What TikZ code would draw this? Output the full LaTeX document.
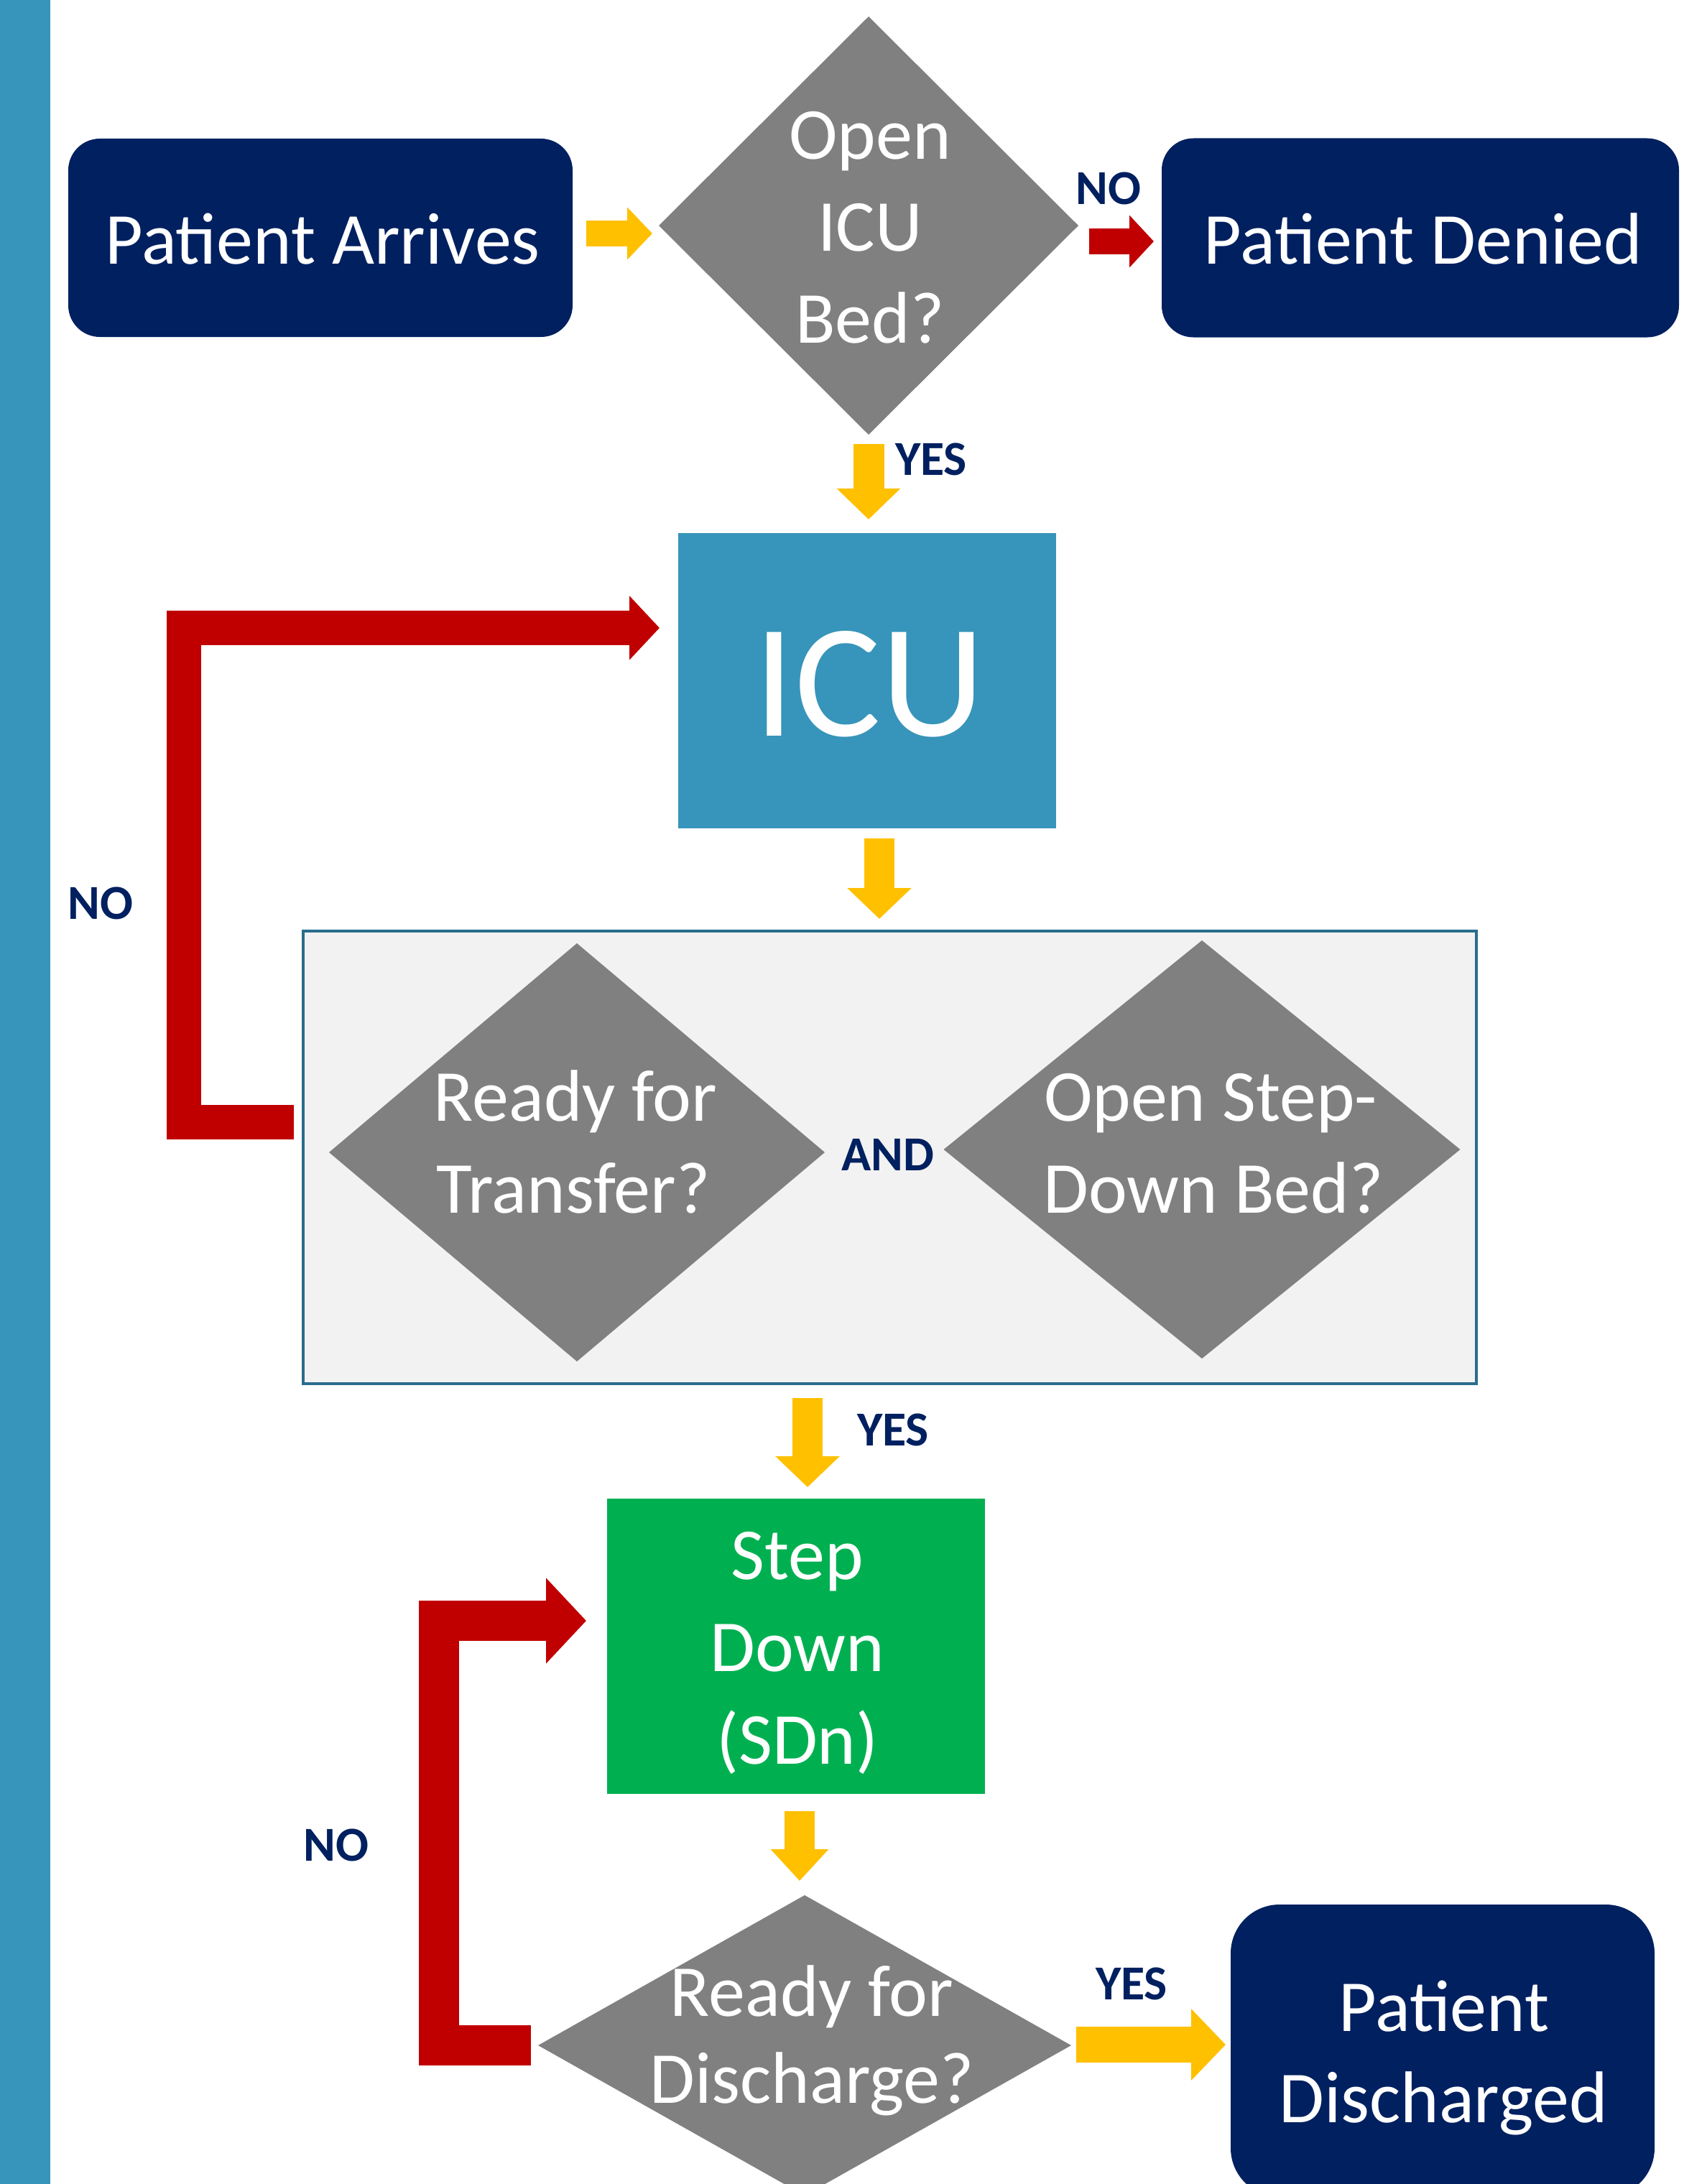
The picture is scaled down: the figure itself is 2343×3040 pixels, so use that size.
\documentclass[tikz,border=0pt]{standalone}
\usepackage{fontspec}
\setmainfont{Carlito}
\usetikzlibrary{arrows.meta,shapes.geometric}
\definecolor{navy}{HTML}{002060}
\definecolor{yel}{HTML}{FFC000}
\definecolor{rd}{HTML}{C00000}
\definecolor{grn}{HTML}{00B050}
\definecolor{dgray}{HTML}{808080}
\definecolor{barblue}{HTML}{3794BA}
\definecolor{lgray}{HTML}{F2F2F2}
\definecolor{border}{HTML}{2A6C8C}
\tikzset{
  box/.style={inner sep=0pt, outer sep=0pt, draw=none},
  navybox/.style={box, fill=navy},
  dia/.style={diamond, fill=dgray, inner sep=0pt, outer sep=0pt},
  wt/.style={text=white, font=\fontsize{102pt}{122pt}\selectfont, anchor=base, inner sep=0pt},
  lbl/.style={text=navy, font=\fontsize{68pt}{80pt}\selectfont\bfseries, anchor=base, inner sep=0pt},
  barrow/.style n args={3}{line width=#1, -{Triangle[length=#2, width=#3]}, line join=miter, line cap=butt}
}
\begin{document}
\begin{tikzpicture}[x=1pt,y=-1pt]
\useasboundingbox (0,0) rectangle (2343,3040);
\fill[white] (0,0) rectangle (2343,3040);
\fill[barblue] (0,0) rectangle (70,3040);

% top row
\node[navybox, rounded corners=44pt, minimum width=702pt, minimum height=276pt] (arr) at (446,331) {};
\node[wt] (arrt) at (449,367) {Patient Arrives};
\node[navybox, rounded corners=44pt, minimum width=720pt, minimum height=277pt] (den) at (1977,331) {};
\node[wt] (dent) at (1981,367) {Patient Denied};
\node[dia, minimum width=584pt, minimum height=582pt] (d1) at (1209,314) {};
\node[wt] (d1a) at (1211,222) {Open};
\node[wt] (d1b) at (1211,349) {ICU};
\node[wt] (d1c) at (1211,477) {Bed?};

% ICU
\node[box, fill=barblue, minimum width=526pt, minimum height=411pt] (icu) at (1207,947.5) {};
\node[text=white, font=\fontsize{225pt}{260pt}\selectfont, anchor=base, inner sep=0pt] (icut) at (1210,1024) {ICU};

% group
\node[draw=border, line width=4pt, fill=lgray, inner sep=0pt, outer sep=0pt, minimum width=1633pt, minimum height=630pt] (grp) at (1238.5,1611) {};
\node[dia, minimum width=690pt, minimum height=582pt] (d2) at (803,1604) {};
\node[wt] (d2a) at (801,1560) {Ready for};
\node[wt] (d2b) at (798,1688) {Transfer?};
\node[dia, minimum width=719pt, minimum height=582pt] (d3) at (1673,1600) {};
\node[wt] (d3a) at (1685,1560) {Open Step-};
\node[wt] (d3b) at (1689,1688) {Down Bed?};
\node[lbl] (and) at (1236,1629) {AND};

% step down
\node[box, fill=grn, minimum width=526pt, minimum height=411pt] (sd) at (1108,2291.5) {};
\node[wt] (sda) at (1110,2198) {Step};
\node[wt] (sdb) at (1110,2326) {Down};
\node[wt] (sdc) at (1110,2455) {(SDn)};

% discharge
\node[dia, minimum width=742pt, minimum height=418pt] (d4) at (1120,2847) {};
\node[wt] (d4a) at (1130,2806) {Ready for};
\node[wt] (d4b) at (1130,2927) {Discharge?};
\node[navybox, rounded corners=68pt, minimum width=590pt, minimum height=407pt] (dis) at (2008,2854.5) {};
\node[wt] (disa) at (2010,2827) {Patient};
\node[wt] (disb) at (2009,2954) {Discharged};

% labels
\node[lbl] (no1) at (1543,284) {NO};
\node[lbl] (yes1) at (1296,661) {YES};
\node[lbl] (no2) at (140,1279) {NO};
\node[lbl] (yes2) at (1243,2012) {YES};
\node[lbl] (no3) at (468,2590) {NO};
\node[lbl] (yes3) at (1575,2783) {YES};

% connectors
\draw[barrow={36pt}{35pt}{71pt}, draw=yel] ([shift={(19,-6)}]arr.east) -- ([shift={(-9,11)}]d1.west);
\draw[barrow={36pt}{34pt}{71pt}, draw=rd] ([shift={(15,22)}]d1.east) -- ([shift={(-11,5)}]den.west);
\draw[barrow={43pt}{43pt}{86pt}, draw=yel] ([shift={(0,13)}]d1.south) -- ([shift={(2,-19)}]icu.north);
\draw[barrow={42pt}{43pt}{87pt}, draw=yel] ([shift={(17,14)}]icu.south) -- ([shift={(-14.5,-17)}]grp.north);
\draw[barrow={48pt}{42pt}{87pt}, draw=rd] ([shift={(-13,-49)}]grp.west) -- ++(-153.5,0) |- ([shift={(-26,-73.5)}]icu.west);
\draw[barrow={42pt}{43pt}{87pt}, draw=yel] ([shift={(-114.5,20)}]grp.south) -- ([shift={(16,-16)}]sd.north);
\draw[barrow={42pt}{44pt}{78pt}, draw=yel] ([shift={(5,24)}]sd.south) -- ([shift={(-7,-20)}]d4.north);
\draw[barrow={56pt}{56pt}{116pt}, draw=rd] ([shift={(-10,0)}]d4.west) -- ++(-128,0) |- ([shift={(-29,-35.5)}]sd.west);
\draw[barrow={50pt}{48pt}{97pt}, draw=yel] ([shift={(7,-1)}]d4.east) -- ([shift={(-7,-8.5)}]dis.west);
\end{tikzpicture}
\end{document}
